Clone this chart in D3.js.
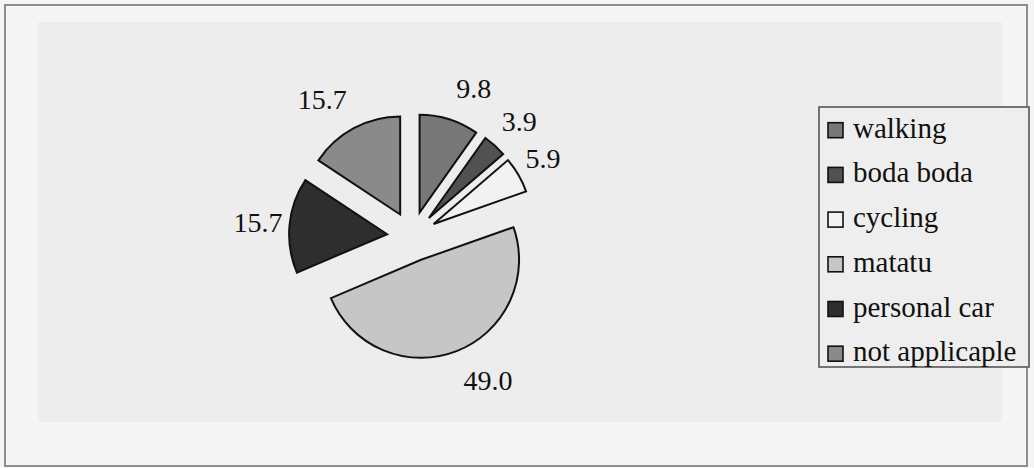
<!DOCTYPE html>
<html>
<head>
<meta charset="utf-8">
<script src="https://cdn.jsdelivr.net/npm/d3@7"></script>
<style>
  html, body { margin: 0; padding: 0; background: #f5f5f5; }
  svg { display: block; }
  text { font-family: "Liberation Serif", "Times New Roman", serif; fill: #111; }
</style>
</head>
<body>
<svg id="chart" width="1034" height="468"></svg>
<script>
// Mode of transport (% of respondents)
const categories = ["walking", "boda boda", "cycling", "matatu", "personal car", "not applicaple"];
const shares = [9.8, 3.9, 5.9, 49.0, 15.7, 15.7];
const fills = ["#777777", "#515151", "#f2f2f2", "#c6c6c6", "#2e2e2e", "#8a8a8a"];

const W = 1034, H = 468;
const cx = 412, cy = 236.5, radius = 98, explode = 25;
const labelSize = 28, legendSize = 29;

const svg = d3.select("#chart");

// frame and plot area
svg.append("rect").attr("x", 0).attr("y", 0).attr("width", W).attr("height", H).attr("fill", "#f5f5f5");
svg.append("rect").attr("x", 38).attr("y", 22).attr("width", 964).attr("height", 400).attr("fill", "#ededed");
svg.append("rect").attr("x", 5).attr("y", 5).attr("width", 1022).attr("height", 461)
  .attr("fill", "none").attr("stroke", "#8e8e8e").attr("stroke-width", 2);

const pie = d3.pie().sort(null).value(d => d).startAngle(0).endAngle(2 * Math.PI);
const arcs = pie(shares);
const arc = d3.arc().innerRadius(0).outerRadius(radius);

const g = svg.append("g").attr("transform", `translate(${cx},${cy})`);

const mid = d => (d.startAngle + d.endAngle) / 2;

const slices = g.selectAll("g.slice").data(arcs).enter().append("g")
  .attr("class", "slice")
  .attr("transform", d => {
    const a = mid(d);
    return `translate(${Math.sin(a) * explode},${-Math.cos(a) * explode})`;
  });

slices.append("path")
  .attr("d", arc)
  .attr("fill", (d, i) => fills[i])
  .attr("stroke", "#111")
  .attr("stroke-width", 2)
  .attr("stroke-linejoin", "miter");

// value labels placed just outside each slice's arc
const fmt = d3.format(".1f");
slices.append("text")
  .attr("font-size", labelSize)
  .attr("text-anchor", "middle")
  .attr("dy", "0.34em")
  .text(d => fmt(d.data))
  .each(function (d) {
    const a = mid(d);
    const w = this.getComputedTextLength();
    const px = Math.sin(a) * radius + Math.sign(Math.sin(a)) * (w / 2 + 7);
    const py = -Math.cos(a) * radius - Math.cos(a) * 32;
    d3.select(this).attr("x", px).attr("y", py);
  });

// legend
const lg = svg.append("g").attr("transform", "translate(819,107)");
lg.append("rect").attr("width", 210).attr("height", 260)
  .attr("fill", "#eeeeee").attr("stroke", "#666").attr("stroke-width", 1.8);

const rows = lg.selectAll("g.row").data(categories).enter().append("g")
  .attr("class", "row")
  .attr("transform", (d, i) => `translate(9,${15.7 + i * 44.7})`);

rows.append("rect").attr("width", 15).attr("height", 15)
  .attr("fill", (d, i) => fills[i]).attr("stroke", "#111").attr("stroke-width", 1.6);

rows.append("text").attr("x", 25).attr("y", 15)
  .attr("font-size", legendSize)
  .text(d => d);
</script>
</body>
</html>
